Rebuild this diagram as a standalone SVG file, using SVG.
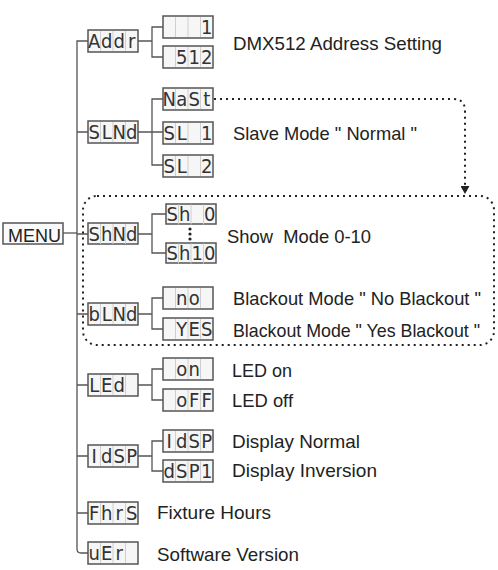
<svg xmlns="http://www.w3.org/2000/svg" width="498" height="570" viewBox="0 0 498 570">
<style>
.bg{fill:#ffffff}
.lcd{fill:#f6f6f6;stroke:#555;stroke-width:1.5}
.sep{stroke:#cfcfcf;stroke-width:1}
.seg{font-family:"DejaVu Sans Condensed","DejaVu Sans","DejaVu Sans Mono",sans-serif;font-stretch:condensed;font-size:20px;fill:#333;text-anchor:middle}
.lbl{font-family:"Liberation Sans",Arial,sans-serif;font-size:19px;fill:#222}
.ln{fill:none;stroke:#555;stroke-width:1.3}
.dot{fill:none;stroke:#222;stroke-width:2;stroke-dasharray:2 4}
</style>
<defs>
<marker id="arr" markerWidth="9" markerHeight="9" refX="8" refY="4.5" orient="auto" markerUnits="userSpaceOnUse">
<path d="M0,0 L8,4.5 L0,9 z" fill="#222"/>
</marker>
<g id="cells4">
<line class="sep" x1="12.5" y1="1" x2="12.5" y2="21"/>
<line class="sep" x1="25" y1="1" x2="25" y2="21"/>
<line class="sep" x1="37.5" y1="1" x2="37.5" y2="21"/>
</g>
</defs>
<rect class="bg" width="498" height="570"/>

<g id="connectors">
<path class="ln" d="M88,41 H77 V549 Q77,553 81,553 H88"/>
<path class="ln" d="M63,233 H77"/>
<path class="ln" d="M77,132 H88 M77,234 H88 M77,314 H88 M77,385 H88 M77,456 H88 M77,513 H88"/>
<path class="ln" d="M138,41 H152 M163,27 H152 V57 H163"/>
<path class="ln" d="M138,132 H163 M163,99 H152 V165 H163"/>
<path class="ln" d="M138,234 H152 M166,214 H152 V253 H166"/>
<path class="ln" d="M138,314 H152 M163,298 H152 V329 H163"/>
<path class="ln" d="M138,385 H152 M163,369 H152 V400 H163"/>
<path class="ln" d="M138,456 H152 M163,441 H152 V471 H163"/>
<path class="dot" d="M214,99 H453 Q465,99 465,111 V194" marker-end="url(#arr)"/>
</g>

<g id="group-box">
<rect class="dot" x="83" y="196" width="411" height="149" rx="14"/>
</g>

<g id="menu">
<rect x="3" y="223" width="60" height="21" fill="#fafafa" stroke="#555" stroke-width="1.5"/>
<text class="lbl" x="8" y="242" font-size="20" textLength="53" lengthAdjust="spacingAndGlyphs">MENU</text>
</g>

<g id="addr">
<rect class="lcd" x="88" y="30" width="50" height="22"/><use href="#cells4" x="88" y="30"/>
<text class="seg" xml:space="preserve" x="94.25 106.75 119.25 131.75" y="48">Addr</text>
</g>
<g id="addr-1">
<rect class="lcd" x="163" y="16" width="50" height="22"/><use href="#cells4" x="163" y="16"/>
<text class="seg" xml:space="preserve" x="169.25 181.75 194.25 206.75" y="34">   1</text>
</g>
<g id="addr-512">
<rect class="lcd" x="163" y="46" width="50" height="22"/><use href="#cells4" x="163" y="46"/>
<text class="seg" xml:space="preserve" x="169.25 181.75 194.25 206.75" y="64"> 512</text>
</g>
<text class="lbl" x="233" y="50" font-size="20" textLength="209" lengthAdjust="spacingAndGlyphs">DMX512 Address Setting</text>

<g id="slnd">
<rect class="lcd" x="88" y="121" width="50" height="22"/><use href="#cells4" x="88" y="121"/>
<text class="seg" xml:space="preserve" x="94.25 106.75 119.25 131.75" y="139">SLNd</text>
</g>
<g id="nast">
<rect class="lcd" x="163" y="88" width="50" height="22"/><use href="#cells4" x="163" y="88"/>
<text class="seg" xml:space="preserve" x="169.25 181.75 194.25 206.75" y="106">NaSt</text>
</g>
<g id="sl1">
<rect class="lcd" x="163" y="122" width="50" height="22"/><use href="#cells4" x="163" y="122"/>
<text class="seg" xml:space="preserve" x="169.25 181.75 194.25 206.75" y="140">SL 1</text>
</g>
<g id="sl2">
<rect class="lcd" x="163" y="155" width="50" height="22"/><use href="#cells4" x="163" y="155"/>
<text class="seg" xml:space="preserve" x="169.25 181.75 194.25 206.75" y="173">SL 2</text>
</g>
<text class="lbl" x="233" y="140" textLength="184" lengthAdjust="spacingAndGlyphs">Slave Mode " Normal "</text>

<g id="shnd">
<rect class="lcd" x="88" y="223" width="50" height="21"/><use href="#cells4" x="88" y="223"/>
<text class="seg" xml:space="preserve" x="94.25 106.75 119.25 131.75" y="240.5">ShNd</text>
</g>
<g id="sh0">
<rect class="lcd" x="166" y="204" width="50" height="20"/><use href="#cells4" x="166" y="203.5"/>
<text class="seg" xml:space="preserve" x="172.25 184.75 197.25 209.75" y="221" font-size="19">Sh 0</text>
</g>
<g id="sh10">
<rect class="lcd" x="166" y="243" width="50" height="20"/><use href="#cells4" x="166" y="242.5"/>
<text class="seg" xml:space="preserve" x="172.25 184.75 197.25 209.75" y="260" font-size="19">Sh10</text>
</g>
<g id="vdots" fill="#222">
<circle cx="190" cy="229" r="1.6"/><circle cx="190" cy="234" r="1.6"/><circle cx="190" cy="239" r="1.6"/>
</g>
<text class="lbl" xml:space="preserve" x="227" y="243" font-size="18" textLength="144" lengthAdjust="spacingAndGlyphs">Show  Mode 0-10</text>

<g id="blnd">
<rect class="lcd" x="88" y="303" width="50" height="22"/><use href="#cells4" x="88" y="303"/>
<text class="seg" xml:space="preserve" x="94.25 106.75 119.25 131.75" y="321">bLNd</text>
</g>
<g id="no">
<rect class="lcd" x="163" y="287" width="50" height="22"/><use href="#cells4" x="163" y="287"/>
<text class="seg" xml:space="preserve" x="169.25 181.75 194.25 206.75" y="305"> no </text>
</g>
<g id="yes">
<rect class="lcd" x="163" y="318" width="50" height="22"/><use href="#cells4" x="163" y="318"/>
<text class="seg" xml:space="preserve" x="169.25 181.75 194.25 206.75" y="336"> YES</text>
</g>
<text class="lbl" x="233" y="305" textLength="248" lengthAdjust="spacingAndGlyphs">Blackout Mode " No Blackout "</text>
<text class="lbl" x="233" y="337" textLength="247" lengthAdjust="spacingAndGlyphs">Blackout Mode " Yes Blackout "</text>

<g id="led">
<rect class="lcd" x="88" y="374" width="50" height="22"/><use href="#cells4" x="88" y="374"/>
<text class="seg" xml:space="preserve" x="94.25 106.75 119.25 131.75" y="392">LEd </text>
</g>
<g id="on">
<rect class="lcd" x="163" y="358" width="50" height="22"/><use href="#cells4" x="163" y="358"/>
<text class="seg" xml:space="preserve" x="169.25 181.75 194.25 206.75" y="376"> on </text>
</g>
<g id="off">
<rect class="lcd" x="163" y="389" width="50" height="22"/><use href="#cells4" x="163" y="389"/>
<text class="seg" xml:space="preserve" x="169.25 181.75 194.25 206.75" y="407"> oFF</text>
</g>
<text class="lbl" x="232" y="377" textLength="60" lengthAdjust="spacingAndGlyphs">LED on</text>
<text class="lbl" x="232" y="407" textLength="61" lengthAdjust="spacingAndGlyphs">LED off</text>

<g id="idsp">
<rect class="lcd" x="88" y="445" width="50" height="22"/><use href="#cells4" x="88" y="445"/>
<text class="seg" xml:space="preserve" x="94.25 106.75 119.25 131.75" y="463">IdSP</text>
</g>
<g id="idsp-normal">
<rect class="lcd" x="163" y="430" width="50" height="22"/><use href="#cells4" x="163" y="430"/>
<text class="seg" xml:space="preserve" x="169.25 181.75 194.25 206.75" y="448">IdSP</text>
</g>
<g id="dsp1">
<rect class="lcd" x="163" y="460" width="50" height="22"/><use href="#cells4" x="163" y="460"/>
<text class="seg" xml:space="preserve" x="169.25 181.75 194.25 206.75" y="478">dSP1</text>
</g>
<text class="lbl" x="232" y="448" textLength="128" lengthAdjust="spacingAndGlyphs">Display Normal</text>
<text class="lbl" x="232" y="477" textLength="145" lengthAdjust="spacingAndGlyphs">Display Inversion</text>

<g id="fhrs">
<rect class="lcd" x="88" y="502" width="50" height="22"/><use href="#cells4" x="88" y="502"/>
<text class="seg" xml:space="preserve" x="94.25 106.75 119.25 131.75" y="520">FhrS</text>
</g>
<text class="lbl" x="157" y="519" textLength="114" lengthAdjust="spacingAndGlyphs">Fixture Hours</text>

<g id="ver">
<rect class="lcd" x="88" y="542" width="50" height="22"/><use href="#cells4" x="88" y="542"/>
<text class="seg" xml:space="preserve" x="94.25 106.75 119.25 131.75" y="560">uEr </text>
</g>
<text class="lbl" x="157" y="561" textLength="142" lengthAdjust="spacingAndGlyphs">Software Version</text>
</svg>
